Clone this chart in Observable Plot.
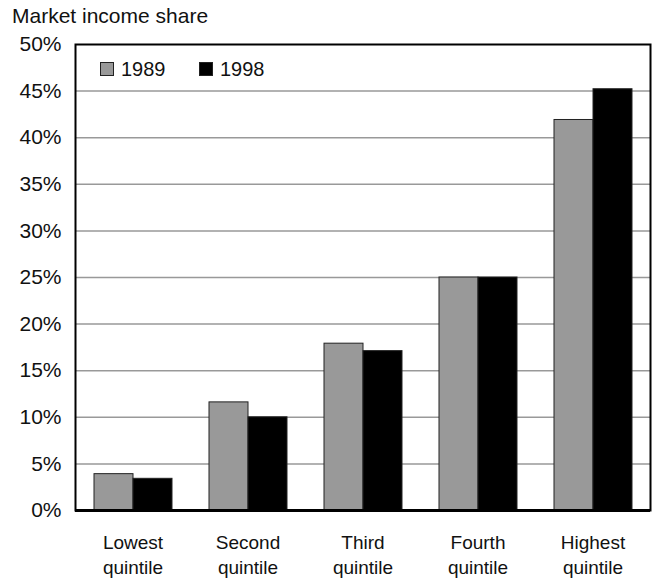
<!DOCTYPE html>
<html><head><meta charset="utf-8">
<script src="https://cdn.jsdelivr.net/npm/d3@7"></script>
<script src="https://cdn.jsdelivr.net/npm/@observablehq/plot@0.6"></script>
<style>
body{margin:0;background:#fff;font-family:"Liberation Sans",Arial,sans-serif;color:#111}
#wrap{position:relative;width:654px;height:579px}
#title{height:30px;box-sizing:border-box;padding:6px 0 0 12px;font-size:21px;line-height:20px}
.leg{position:absolute;top:59px;font-size:20px;line-height:20px;display:flex;align-items:center}
.sw{width:12px;height:12px;border:1px solid #222;margin-right:7px}
</style></head><body>
<div id="wrap"><div id="title">Market income share</div><div id="chart"></div><div id="legend"></div></div>
<script>
const quintiles = ["Lowest quintile","Second quintile","Third quintile","Fourth quintile","Highest quintile"];
const quintileLabels = ["Lowest\nquintile","Second\nquintile","Third\nquintile","Fourth\nquintile","Highest\nquintile"];
const years = ["1989","1998"];
const values1989 = [3.9, 11.6, 17.9, 25.0, 41.9];
const values1998 = [3.4, 10.0, 17.1, 25.0, 45.2];
const yearColors = ["#999999","#000000"];
const yTicks = [0,5,10,15,20,25,30,35,40,45,50];

const data = quintiles.flatMap((q,i)=>[
  {quintile:q, year:years[0], value:values1989[i]},
  {quintile:q, year:years[1], value:values1998[i]}
]);

const chart = Plot.plot({
  width:654, height:549, marginTop:14, marginBottom:69, marginLeft:73, marginRight:2,
  style:{fontFamily:'"Liberation Sans",Arial,sans-serif', fontSize:"20px", color:"#111", background:"white", overflow:"visible"},
  fx:{domain:quintiles, padding:0, label:null, axis:null},
  x:{domain:years, paddingInner:0, paddingOuter:0.47, axis:null},
  y:{domain:[0,50], label:null, axis:null},
  color:{domain:years, range:yearColors},
  marks:[
    Plot.ruleY(yTicks.filter(t=>t>0&&t<50), {stroke:"#999", strokeWidth:1.5}),
    Plot.barY(data,{fx:"quintile", x:"year", y:"value", fill:"year", stroke:"#222", strokeWidth:1}),
    Plot.frame({facet:"super", stroke:"#000", strokeWidth:2}),
    Plot.ruleY([0],{stroke:"#000", strokeWidth:3}),
    Plot.axisY({ticks:yTicks, tickSize:0, tickPadding:14, tickFormat:d=>d+"%", label:null, fontSize:21}),
    Plot.axisFx({domain:quintiles, anchor:"bottom", tickSize:0, tickPadding:21, label:null,
      tickFormat:d=>quintileLabels[quintiles.indexOf(d)], fontSize:19, lineHeight:1.32})
  ]
});
document.getElementById("chart").appendChild(chart);

const leg = document.getElementById("legend");
const legLeft = [100, 199];
years.forEach((y,i)=>{
  const item = document.createElement("div");
  item.className = "leg";
  item.style.left = legLeft[i] + "px";
  const sw = document.createElement("div");
  sw.className = "sw";
  sw.style.background = yearColors[i];
  item.appendChild(sw);
  item.appendChild(document.createTextNode(y));
  leg.appendChild(item);
});
</script>
</body></html>
